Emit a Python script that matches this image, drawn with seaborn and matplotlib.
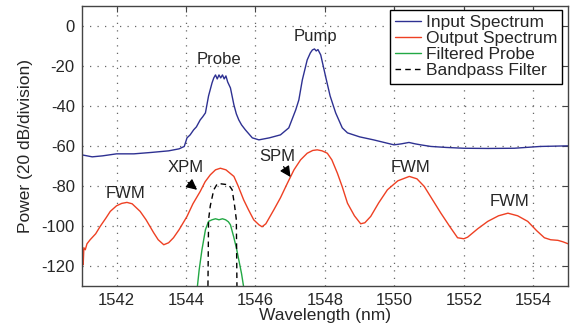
import matplotlib
matplotlib.use("Agg")
import matplotlib.pyplot as plt
import pandas as pd
import seaborn as sns

# ---- data (wavelength nm, power dB) ----
input_wl = [1541.0, 1541.3, 1541.6, 1542.0, 1542.5, 1543.0, 1543.5, 1543.8, 1543.95,
            1544.03, 1544.12, 1544.22, 1544.3, 1544.41, 1544.48, 1544.56, 1544.65, 1544.75,
            1544.8, 1544.85, 1544.9, 1544.95, 1545.0, 1545.05, 1545.1, 1545.15, 1545.2,
            1545.28, 1545.38, 1545.45, 1545.52, 1545.6, 1545.71, 1545.91, 1546.1, 1546.4,
            1546.72, 1546.96, 1547.16, 1547.25, 1547.35, 1547.49, 1547.58, 1547.64, 1547.7,
            1547.75, 1547.8, 1547.88, 1548.02, 1548.15, 1548.31, 1548.5, 1548.65, 1549.0,
            1549.4, 1549.99, 1550.2, 1550.42, 1550.6, 1550.76, 1551.05, 1551.5, 1552.0,
            1552.7, 1553.45, 1554.2, 1555.0]
input_db = [-64.5, -65.5, -65.0, -64.0, -64.0, -63.3, -62.5, -61.5, -60.3,
            -56.0, -54.5, -52.0, -50.5, -47.0, -45.5, -43.5, -35.0, -28.5,
            -26.0, -24.5, -26.5, -24.5, -26.0, -24.5, -26.5, -25.0, -28.0,
            -31.0, -39.5, -44.0, -47.0, -49.5, -52.0, -56.0, -57.0, -56.0,
            -54.5, -51.0, -42.0, -37.0, -27.0, -17.0, -13.5, -12.0, -11.5,
            -12.5, -11.8, -14.5, -25.3, -35.0, -43.5, -51.0, -53.5, -55.5,
            -57.0, -59.5, -59.0, -58.3, -59.0, -59.5, -60.3, -60.8, -61.2,
            -61.3, -61.2, -60.3, -60.0]

output_wl = [1541.0, 1541.02, 1541.04, 1541.06, 1541.1, 1541.15, 1541.24, 1541.4, 1541.53,
             1541.7, 1541.82, 1542.0, 1542.15, 1542.3, 1542.45, 1542.68, 1542.85, 1543.07,
             1543.2, 1543.36, 1543.5, 1543.64, 1543.8, 1544.03, 1544.2, 1544.41, 1544.55,
             1544.7, 1544.85, 1544.99, 1545.15, 1545.38, 1545.5, 1545.66, 1545.8, 1545.95,
             1546.1, 1546.19, 1546.3, 1546.53, 1546.72, 1546.92, 1547.11, 1547.3, 1547.49,
             1547.65, 1547.78, 1547.92, 1548.07, 1548.2, 1548.36, 1548.5, 1548.65, 1548.85,
             1549.03, 1549.15, 1549.32, 1549.55, 1549.8, 1550.1, 1550.43, 1550.65, 1550.86,
             1551.1, 1551.34, 1551.6, 1551.82, 1552.0, 1552.11, 1552.4, 1552.69, 1553.0,
             1553.27, 1553.55, 1553.84, 1554.1, 1554.32, 1554.5, 1554.71, 1554.85, 1555.0]
output_db = [-114.0, -112.0, -119.5, -111.0, -112.0, -109.0, -107.0, -104.0, -100.3,
             -96.0, -92.8, -90.0, -88.8, -88.3, -89.0, -92.8, -97.0, -103.5,
             -107.0, -109.5, -108.5, -106.0, -102.0, -95.3, -89.0, -82.8, -78.0,
             -74.5, -72.0, -71.2, -72.0, -75.3, -80.0, -87.0, -92.0, -97.0,
             -99.5, -100.5, -99.0, -92.0, -86.0, -78.7, -72.0, -67.0, -63.7,
             -62.3, -62.0, -62.5, -63.7, -67.0, -73.7, -80.5, -88.7, -95.0,
             -99.0, -98.5, -95.3, -88.5, -82.0, -77.5, -75.3, -76.5, -80.3,
             -87.0, -93.7, -100.5, -106.0, -106.5, -105.7, -101.5, -97.8, -95.0,
             -93.7, -95.0, -97.8, -102.5, -106.0, -107.0, -107.3, -108.0, -109.0]

probe_wl = [1544.30, 1544.38, 1544.46, 1544.56, 1544.65, 1544.75, 1544.85, 1544.95,
            1545.05, 1545.14, 1545.22, 1545.28, 1545.37, 1545.45, 1545.52, 1545.6, 1545.7]
probe_db = [-135.0, -122.0, -112.0, -102.0, -97.8, -97.0, -96.5, -97.0,
            -96.5, -97.0, -98.0, -99.5, -105.3, -111.0, -117.0, -124.0, -135.0]

filter_wl = [1544.63, 1544.65, 1544.7, 1544.8, 1544.9, 1545.0, 1545.23, 1545.33,
             1545.4, 1545.45, 1545.47]
filter_db = [-135.0, -97.0, -90.0, -82.0, -79.0, -79.0, -79.5, -82.0,
             -90.0, -97.0, -135.0]

# text labels: (text, wavelength, power)
labels = [("Probe", 1544.94, -17.0), ("Pump", 1547.73, -5.3),
          ("FWM", 1542.25, -84.0), ("FWM", 1550.47, -70.7), ("FWM", 1553.31, -87.8),
          ("XPM", 1543.98, -70.6), ("SPM", 1546.64, -65.3)]
# arrows: (tail wl, tail dB, tip wl, tip dB)
arrows = [(1544.06, -78.3, 1544.32, -82.0), (1546.81, -70.4, 1547.01, -75.6)]

sns.set_style("white")
plt.rcParams["font.family"] = ["Liberation Sans", "DejaVu Sans"]
plt.rcParams["axes.unicode_minus"] = False

fig = plt.figure(figsize=(5.7, 3.26), dpi=100)
ax = fig.add_axes([0.1435, 0.1236, 0.853, 0.858])

series = [
    (input_wl, input_db, "Input Spectrum", "#2e3192", "-"),
    (output_wl, output_db, "Output Spectrum", "#ee4023", "-"),
    (probe_wl, probe_db, "Filtered Probe", "#22a844", "-"),
    (filter_wl, filter_db, "Bandpass Filter", "black", (0, (4, 3))),
]
for wl, db, name, color, ls in series:
    df = pd.DataFrame({"wl": wl, "db": db})
    sns.lineplot(data=df, x="wl", y="db", ax=ax, sort=False, estimator=None,
                 color=color, linewidth=1.0, linestyle=ls, label=name)

ax.set_xlim(1541, 1555)
ax.set_ylim(-130, 10)
ax.set_xticks(range(1542, 1555, 2))
ax.set_yticks(range(-120, 1, 20))
ax.grid(True, color="#666666", linestyle=(0, (1, 5)), linewidth=0.9)
ax.tick_params(direction="in", length=4, top=True, right=True, labelsize=12,
               color="#444444", pad=5)
for sp in ax.spines.values():
    sp.set_color("#444444")
    sp.set_linewidth(1.0)

ax.set_xlabel("Wavelength (nm)", fontsize=12.5, labelpad=0)
ax.set_ylabel("Power (20 dB/division)", fontsize=12.5, labelpad=6)

for txt, x, y in labels:
    ax.text(x, y, txt, fontsize=12, ha="center", va="center")
for x0, y0, x1, y1 in arrows:
    ax.annotate("", xy=(x1, y1), xytext=(x0, y0),
                arrowprops=dict(arrowstyle="-|>", color="black", lw=0.9,
                                mutation_scale=16, shrinkA=0, shrinkB=0))

leg = ax.legend(loc="upper right", bbox_to_anchor=(0.988, 0.986), borderaxespad=0,
                fontsize=12.5, fancybox=False, framealpha=1, edgecolor="black",
                handlelength=1.5, handletextpad=0.25, labelspacing=0.05,
                borderpad=0.3)
leg.get_frame().set_linewidth(1.0)

fig.savefig("out.png", dpi=100)
